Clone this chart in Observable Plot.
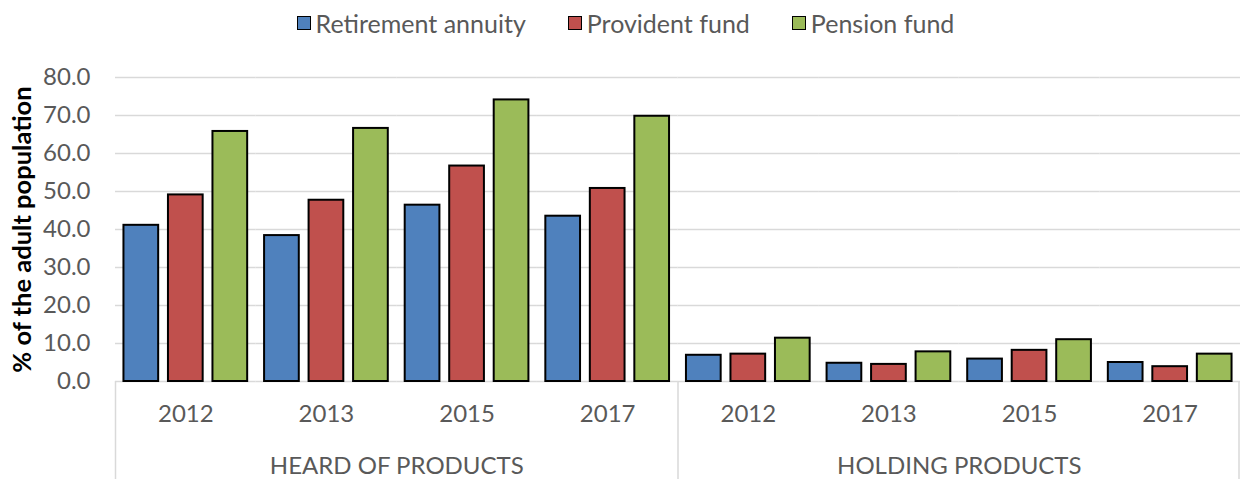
<!DOCTYPE html>
<html><head><meta charset="utf-8">
<script src="https://cdn.jsdelivr.net/npm/d3@7"></script>
<script src="https://cdn.jsdelivr.net/npm/@observablehq/plot@0.6"></script>
<style>
body{margin:0;background:#fff;font-family:Lato,sans-serif;}
#legend{height:45px;display:flex;justify-content:center;align-items:center;gap:42px;font-size:25px;color:#595959;padding-left:10px;box-sizing:border-box;width:1241px;}
.item{display:flex;align-items:center;gap:5px}
.sw{width:12px;height:12px;border:1.5px solid #000;}
</style></head><body>
<div id="legend"></div><div id="chart"></div>
<script>
const groups = ["HEARD OF PRODUCTS", "HOLDING PRODUCTS"];
const years = ["2012", "2013", "2015", "2017"];
const series = ["Retirement annuity", "Provident fund", "Pension fund"];
const colors = ["#4F81BD", "#C0504D", "#9BBB59"];
const retirementAnnuity = [41.1, 38.4, 46.4, 43.5, 6.9, 4.8, 5.9, 5.0];
const providentFund     = [49.1, 47.7, 56.7, 50.8, 7.2, 4.5, 8.2, 3.9];
const pensionFund       = [65.8, 66.6, 74.1, 69.8, 11.4, 7.8, 11.0, 7.2];
const yTicks = [0, 10, 20, 30, 40, 50, 60, 70, 80];
const yTitle = "% of the adult population";

const W = 1241, H = 434, mT = 32, mB = 98, mL = 115, mR = 1;
const keys = [];
groups.forEach(g => years.forEach(y => keys.push(g + "|" + y)));
const seriesValues = [retirementAnnuity, providentFund, pensionFund];
const rows = [];
keys.forEach((key, i) => series.forEach((s, si) => rows.push({key, series: s, value: seriesValues[si][i]})));
const facetW = (W - mL - mR) / keys.length;
const frameH = H - mT - mB;
const leftSeps = groups.map(g => ({key: g + "|" + years[0]}));
const rightSeps = [{key: groups[groups.length - 1] + "|" + years[years.length - 1]}];
const groupLabels = groups.map(g => ({key: g + "|" + years[1], label: g}));

const plot = Plot.plot({
  width: W, height: H, marginTop: mT, marginBottom: mB, marginLeft: mL, marginRight: mR,
  style: {fontFamily: "Lato, sans-serif", fontSize: "24px", color: "#595959", background: "white", overflow: "visible"},
  fx: {domain: keys, padding: 0, label: null, round: false},
  x: {domain: series, paddingInner: 0.22, paddingOuter: 0.19, round: false, axis: null},
  y: {domain: [0, 80], label: null},
  color: {domain: series, range: colors},
  marks: [
    Plot.gridY(yTicks, {stroke: "#d9d9d9", strokeOpacity: 1, strokeWidth: 1.5}),
    Plot.axisY(yTicks, {tickFormat: d3.format(".1f"), tickSize: 0, tickPadding: 25, label: null}),
    Plot.axisFx({anchor: "bottom", tickFormat: k => k.split("|")[1], tickSize: 0, tickPadding: 23, label: null}),
    Plot.ruleX(leftSeps, {fx: "key", x: null, dx: -facetW / 2, insetTop: frameH, insetBottom: -mB, stroke: "#d9d9d9", strokeWidth: 1.5}),
    Plot.ruleX(rightSeps, {fx: "key", x: null, dx: facetW / 2 - 1.5, insetTop: frameH, insetBottom: -mB, stroke: "#d9d9d9", strokeWidth: 1.5}),
    Plot.barY(rows, {fx: "key", x: "series", y: "value", fill: "series", stroke: "black", strokeWidth: 2}),
    Plot.text(groupLabels, {fx: "key", text: "label", frameAnchor: "bottom-right", textAnchor: "middle", dy: 92, fill: "#595959"}),
    Plot.text([{key: keys[0], label: yTitle}], {fx: "key", text: "label", frameAnchor: "left", textAnchor: "middle", lineAnchor: "middle", rotate: -90, dx: -93, fontSize: 25.5, fontWeight: "bold", fill: "black"})
  ]
});
document.getElementById("chart").appendChild(plot);

const cs = plot.scale("color");
const leg = document.getElementById("legend");
cs.domain.forEach((d, i) => {
  const it = document.createElement("div"); it.className = "item";
  const sw = document.createElement("span"); sw.className = "sw"; sw.style.background = cs.range[i];
  const t = document.createElement("span"); t.textContent = d;
  it.appendChild(sw); it.appendChild(t); leg.appendChild(it);
});
</script>
</body></html>
